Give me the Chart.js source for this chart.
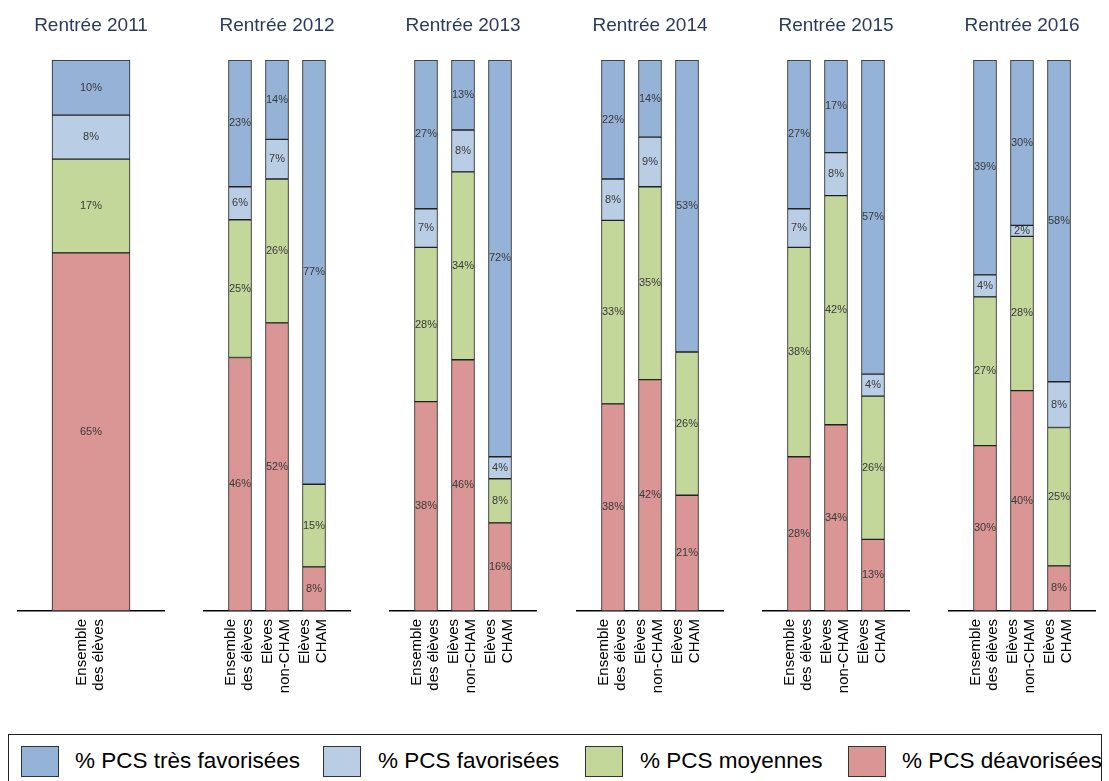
<!DOCTYPE html>
<html>
<head>
<meta charset="utf-8">
<script src="https://cdn.jsdelivr.net/npm/chart.js@4.4.0/dist/chart.umd.min.js"></script>
<style>
  html, body { margin: 0; padding: 0; background: #fff; overflow: hidden; }
  #page { position: relative; width: 1109px; height: 781px; overflow: hidden; font-family: "Liberation Sans", Arial, sans-serif; }
  #page canvas { position: absolute; top: 0; }
  #legendBox { position: absolute; left: 8px; top: 734px; width: 1094px; height: 80px; border: 1.5px solid #222; box-sizing: border-box; }
  .sw { position: absolute; top: 746px; width: 38px; height: 31px; border: 1px solid #333; box-sizing: border-box; }
  .lt { position: absolute; top: 748px; line-height: 26px; font-size: 22.5px; white-space: nowrap; color: #000; }
</style>
</head>
<body>
<div id="page">
  <div id="legendBox"></div>
</div>
<script>
const panelTitles = ['Rentrée 2011', 'Rentrée 2012', 'Rentrée 2013', 'Rentrée 2014', 'Rentrée 2015', 'Rentrée 2016'];
const groupLabels2011 = [['Ensemble', 'des élèves']];
const groupLabels = [['Ensemble', 'des élèves'], ['Elèves', 'non-CHAM'], ['Elèves', 'CHAM']];
const seriesNames = ['% PCS très favorisées', '% PCS favorisées', '% PCS moyennes', '% PCS déavorisées'];
const seriesColors = ['#95b3d7', '#b9cde5', '#c4d79b', '#d99694'];

// one row per rentrée, one value per group of pupils (null = no segment)
const tresFavorisees = [[10], [23, 14.4, 77], [27, 12.7, 72], [21.6, 14, 53], [27, 16.8, 57], [39, 30, 58.4]];
const favorisees     = [[8], [6, 7.2, null], [7, 7.6, 4], [7.5, 9, null], [7, 7.8, 4], [4, 2, 8.3]];
const moyennes       = [[17], [25, 26.1, 15], [28, 34.1, 8], [33.3, 35, 26], [38, 41.6, 26], [27, 28, 25.1]];
const defavorisees   = [[65], [46, 52.3, 8], [38, 45.6, 16], [37.6, 42, 21], [28, 33.8, 13], [30, 40, 8.2]];

const FONT = '"Liberation Sans", Arial, sans-serif';
const panelLeft = [17, 203, 389, 576, 762, 948];
const legendSwatchX = [21, 323, 585, 848];
const legendTextX = [75, 378, 640, 902];

// percentage written in the middle of each segment
const segmentLabels = {
  id: 'segmentLabels',
  afterDatasetsDraw(chart) {
    const ctx = chart.ctx;
    ctx.save();
    ctx.font = '11px ' + FONT;
    ctx.fillStyle = '#3a3a3a';
    ctx.textAlign = 'center';
    ctx.textBaseline = 'middle';
    chart.data.datasets.forEach((ds, i) => {
      chart.getDatasetMeta(i).data.forEach((bar, j) => {
        const v = ds.data[j];
        if (v == null || v === 0) return;
        const c = bar.getCenterPoint();
        ctx.fillText(Math.round(v) + '%', c.x, c.y);
      });
    });
    ctx.restore();
  }
};

const page = document.getElementById('page');

panelTitles.forEach((title, p) => {
  const canvas = document.createElement('canvas');
  canvas.width = 148;
  canvas.height = 701;
  canvas.style.left = panelLeft[p] + 'px';
  page.appendChild(canvas);

  const groups = p === 0 ? groupLabels2011 : groupLabels;
  const pad = v => [null, ...v, null];
  // stacked from the bottom: défavorisées first
  const stack = [defavorisees, moyennes, favorisees, tresFavorisees];
  const datasets = stack.map((s, k) => ({
    label: seriesNames[3 - k],
    data: pad(s[p]),
    backgroundColor: seriesColors[3 - k],
    borderColor: '#222',
    borderWidth: 1,
    borderSkipped: false,
    barThickness: p === 0 ? 78 : 23
  }));

  new Chart(canvas, {
    type: 'bar',
    data: { labels: [[], ...groups, []], datasets: datasets },
    options: {
      responsive: false,
      animation: false,
      events: [],
      layout: { padding: 0 },
      plugins: {
        legend: { display: false },
        tooltip: { enabled: false },
        title: {
          display: true,
          text: title,
          color: '#2c3a5e',
          font: { family: FONT, size: 19, weight: 'normal', lineHeight: 1.2 },
          padding: { top: 14, bottom: 23.2 }
        }
      },
      scales: {
        x: {
          stacked: true,
          offset: false,
          grid: { display: false },
          border: { display: true, color: '#000', width: 1.5 },
          ticks: {
            autoSkip: false, minRotation: 90, maxRotation: 90,
            padding: 0, labelOffset: -9, color: '#000',
            font: { family: FONT, size: 15, lineHeight: 1.13 }
          },
          afterFit: s => { s.height = 90; }
        },
        y: { stacked: true, display: false, min: 0, max: 100 }
      }
    },
    plugins: [segmentLabels]
  });
});

seriesNames.forEach((name, i) => {
  const sw = document.createElement('div');
  sw.className = 'sw';
  sw.style.left = legendSwatchX[i] + 'px';
  sw.style.background = seriesColors[i];
  page.appendChild(sw);
  const t = document.createElement('div');
  t.className = 'lt';
  t.style.left = legendTextX[i] + 'px';
  t.textContent = name;
  page.appendChild(t);
});
</script>
</body>
</html>
